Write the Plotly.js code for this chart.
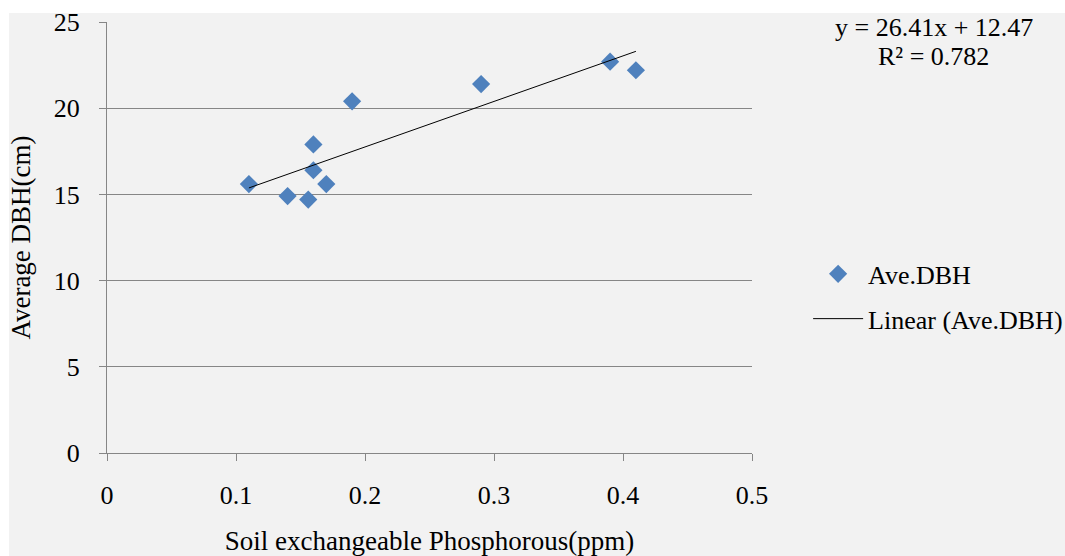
<!DOCTYPE html>
<html>
<head>
<meta charset="utf-8">
<script src="https://cdn.plot.ly/plotly-3.0.1.min.js"></script>
<style>
  html, body { margin: 0; padding: 0; background: #ffffff; }
  #bg { position: absolute; left: 9px; top: 13px; width: 1056px; height: 543px; background: #f2f2f2; }
  #chart { position: absolute; left: 0; top: 0; width: 1065px; height: 556px; }
</style>
</head>
<body>
<div id="bg"></div>
<div id="chart"></div>
<script>
// Data
const phosphorus = [0.11, 0.14, 0.156, 0.16, 0.16, 0.17, 0.19, 0.29, 0.39, 0.41];
const aveDBH     = [15.6, 14.9, 14.7, 17.9, 16.4, 15.6, 20.4, 21.4, 22.7, 22.2];
// Trendline as stated on the chart
const slope = 26.41;
const intercept = 12.47;
const rSquared = 0.782;
const xTicks = [0, 0.1, 0.2, 0.3, 0.4, 0.5];
const xTickLabels = ['0', '0.1', '0.2', '0.3', '0.4', '0.5'];
const yTicks = [0, 5, 10, 15, 20, 25];
const yTickLabels = ['0', '5', '10', '15', '20', '25'];

const trendX = [Math.min(...phosphorus), Math.max(...phosphorus)];
const trendY = trendX.map(v => slope * v + intercept);

const FONT = '"Liberation Serif", "Times New Roman", serif';
const FS = 26;
const FT = 27;

const traces = [
  {
    x: phosphorus, y: aveDBH,
    type: 'scatter', mode: 'markers', name: 'Ave.DBH',
    legendgroup: 'a',
    marker: { symbol: 'diamond', size: 14, color: '#4f81bd' }
  },
  {
    x: trendX, y: trendY,
    type: 'scatter', mode: 'lines', name: 'Linear (Ave.DBH)',
    legendgroup: 'b',
    line: { color: '#000000', width: 1 }
  }
];

const layout = {
  width: 1065, height: 556,
  margin: { l: 107, r: 313, t: 22, b: 103, autoexpand: false },
  paper_bgcolor: 'rgba(0,0,0,0)',
  plot_bgcolor: 'rgba(0,0,0,0)',
  font: { family: FONT, size: FS, color: '#000000' },
  xaxis: {
    range: [0, 0.5],
    tickvals: xTicks, ticktext: xTickLabels,
    showgrid: false, zeroline: false,
    showline: true, linecolor: '#868686', linewidth: 1,
    ticks: 'outside', ticklen: 7, tickcolor: '#868686',
    ticklabelstandoff: 12,
    tickfont: { family: FONT, size: FS },
    title: { text: 'Soil exchangeable Phosphorous(ppm)', font: { family: FONT, size: FT }, standoff: 34 }
  },
  yaxis: {
    range: [0, 25],
    tickvals: yTicks, ticktext: yTickLabels,
    showgrid: true, gridcolor: '#868686', gridwidth: 1,
    zeroline: false,
    showline: true, linecolor: '#868686', linewidth: 1,
    ticks: 'outside', ticklen: 7, tickcolor: '#868686',
    ticklabelstandoff: 14,
    tickfont: { family: FONT, size: FS },
    title: { text: 'Average DBH(cm)', font: { family: FONT, size: FT }, standoff: 15 }
  },
  showlegend: true,
  legend: {
    x: 1.087, xanchor: 'left', xref: 'paper',
    y: 0.47, yanchor: 'top',
    bgcolor: 'rgba(0,0,0,0)',
    font: { family: FONT, size: FS },
    traceorder: 'grouped', tracegroupgap: 8,
    itemwidth: 50
  },
  annotations: [
    {
      xref: 'paper', yref: 'paper',
      x: 1.282, y: 0.988, xanchor: 'center', yanchor: 'middle',
      text: 'y = ' + slope + 'x + ' + intercept,
      showarrow: false,
      font: { family: FONT, size: FS, color: '#000000' }
    },
    {
      xref: 'paper', yref: 'paper',
      x: 1.282, y: 0.921, xanchor: 'center', yanchor: 'middle',
      text: 'R² = ' + rSquared,
      showarrow: false,
      font: { family: FONT, size: FS, color: '#000000' }
    }
  ]
};

Plotly.newPlot('chart', traces, layout, { displayModeBar: false, staticPlot: true });
</script>
</body>
</html>
